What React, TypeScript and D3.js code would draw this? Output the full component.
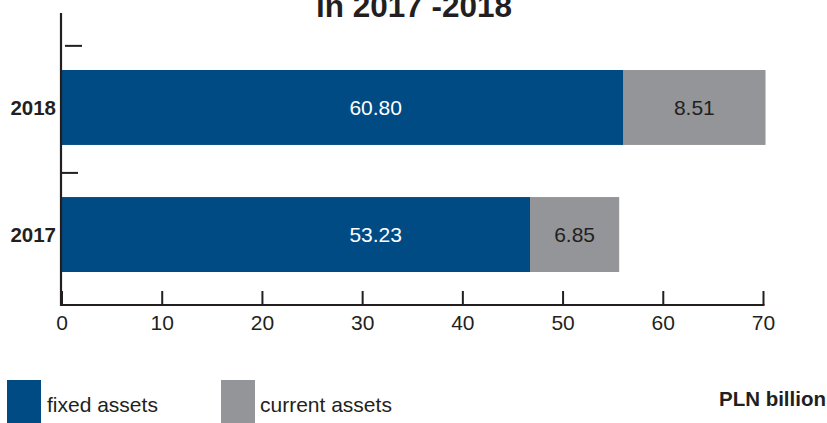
import React from "react";
import * as d3 from "d3";

const years = ["2018", "2017"];
// values printed on the bars (PLN billion)
const fixedLabels = [60.8, 53.23];
const currentLabels = [8.51, 6.85];
// bar extents as drawn in the picture (axis units)
const fixedBarEnd = [56.0, 46.7];
const currentBarEnd = [70.2, 55.6];
const xTicks = [0, 10, 20, 30, 40, 50, 60, 70];
const fixedLabelPos = 31.3;

const W = 827;
const H = 423;
const BLUE = "#004b84";
const GRAY = "#939598";
const INK = "#231f20";
const FONT = "'Liberation Sans', Arial, Helvetica, sans-serif";

export default function App() {
  const x = d3.scaleLinear().domain([0, 70]).range([62, 763.5]);
  const y = d3
    .scaleBand<string>()
    .domain(years)
    .range([70, 272])
    .paddingInner(0.41)
    .paddingOuter(0);
  const bw = y.bandwidth();
  const axisY = 305;

  return (
    <svg
      width={W}
      height={H}
      viewBox={`0 0 ${W} ${H}`}
      style={{ position: "absolute", left: 0, top: 0, background: "#fff" }}
    >
      {/* title (cut off at top) */}
      <text
        x={414}
        y={17}
        textAnchor="middle"
        fontFamily={FONT}
        fontWeight="bold"
        fontSize={31}
        fill={INK}
        textLength={196}
        lengthAdjust="spacingAndGlyphs"
      >
        in 2017 -2018
      </text>

      {/* bars */}
      {years.map((yr, i) => {
        const y0 = y(yr)!;
        return (
          <g key={yr}>
            <rect
              x={x(fixedBarEnd[i])}
              y={y0}
              width={x(currentBarEnd[i]) - x(fixedBarEnd[i])}
              height={bw}
              fill={GRAY}
            />
            <rect
              x={x(0)}
              y={y0}
              width={x(fixedBarEnd[i]) - x(0)}
              height={bw}
              fill={BLUE}
            />
            <text
              x={x(fixedLabelPos)}
              y={y0 + bw / 2 + 7.5}
              textAnchor="middle"
              fontFamily={FONT}
              fontSize={21}
              fill="#ffffff"
            >
              {fixedLabels[i].toFixed(2)}
            </text>
            <text
              x={(x(fixedBarEnd[i]) + x(currentBarEnd[i])) / 2}
              y={y0 + bw / 2 + 7.5}
              textAnchor="middle"
              fontFamily={FONT}
              fontSize={21}
              fill={INK}
            >
              {currentLabels[i].toFixed(2)}
            </text>
            <text
              x={56}
              y={y0 + bw / 2 + 7.5}
              textAnchor="end"
              fontFamily={FONT}
              fontWeight="bold"
              fontSize={20.5}
              fill={INK}
            >
              {yr}
            </text>
            {/* category tick */}
            <line
              x1={i === 0 ? 65 : 62}
              x2={i === 0 ? 82 : 78}
              y1={y0 - y.step() * 0.19}
              y2={y0 - y.step() * 0.19}
              stroke={INK}
              strokeWidth={2}
            />
          </g>
        );
      })}

      {/* axes */}
      <line x1={61} x2={61} y1={13} y2={axisY + 1} stroke={INK} strokeWidth={2.2} />
      <line x1={60} x2={x(70) + 1} y1={axisY} y2={axisY} stroke={INK} strokeWidth={2.2} />
      {xTicks.map((t) => (
        <g key={t}>
          <line
            x1={x(t)}
            x2={x(t)}
            y1={axisY}
            y2={axisY - 14}
            stroke={INK}
            strokeWidth={2}
          />
          <text
            x={x(t)}
            y={330}
            textAnchor="middle"
            fontFamily={FONT}
            fontSize={21}
            fill={INK}
          >
            {t}
          </text>
        </g>
      ))}

      {/* legend */}
      <rect x={7} y={380} width={34} height={45} fill={BLUE} />
      <text x={47} y={412} fontFamily={FONT} fontSize={21} fill={INK}>
        fixed assets
      </text>
      <rect x={221} y={380} width={34} height={45} fill={GRAY} />
      <text x={260} y={412} fontFamily={FONT} fontSize={21} fill={INK}>
        current assets
      </text>
      <text
        x={826}
        y={406}
        textAnchor="end"
        fontFamily={FONT}
        fontWeight="bold"
        fontSize={20.5}
        fill={INK}
      >
        PLN billion
      </text>
    </svg>
  );
}
